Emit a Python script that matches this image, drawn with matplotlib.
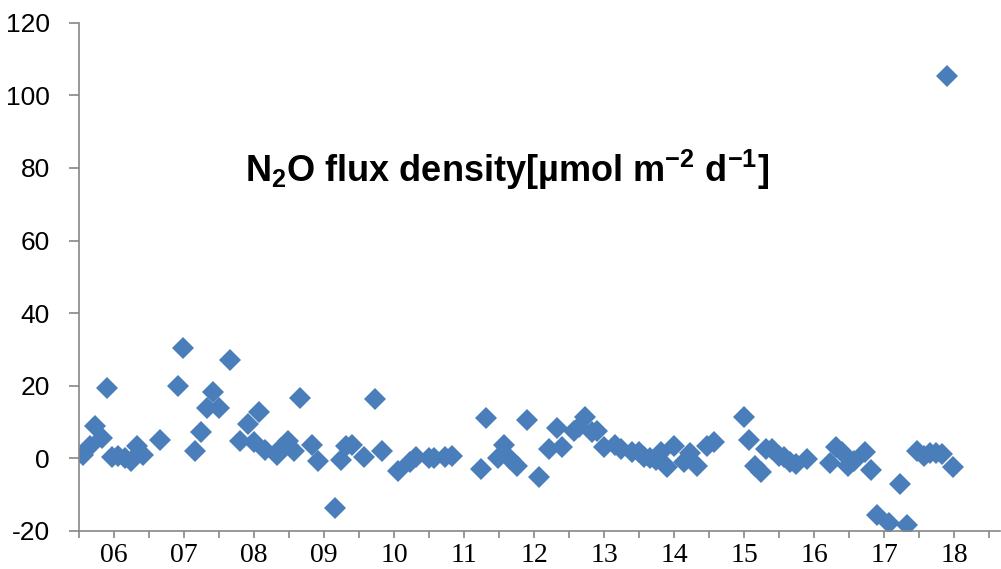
"""N2O flux density scatter, monthly samples 2005-2018."""

import matplotlib
matplotlib.use("Agg")
import matplotlib.pyplot as plt
from matplotlib.ticker import FixedLocator, FuncFormatter

# sample dates as decimal years (06 = 2006), flux in umol m-2 d-1
dates = [
    5.56, 5.65, 5.73, 5.83, 5.90, 5.97, 6.06, 6.15, 6.24, 6.32, 6.41, 6.66,
    6.91, 6.99, 7.16, 7.24, 7.32, 7.41, 7.50, 7.65, 7.80, 7.91, 8.00, 8.07,
    8.15, 8.32, 8.39, 8.49, 8.57, 8.65, 8.82, 8.91, 9.15, 9.24, 9.31, 9.40,
    9.57, 9.73, 9.82, 10.06, 10.22, 10.31, 10.49, 10.57, 10.73, 10.83, 11.24, 11.31,
    11.48, 11.57, 11.65, 11.75, 11.90, 12.07, 12.21, 12.32, 12.40, 12.56, 12.64, 12.73,
    12.82, 12.90, 12.99, 13.15, 13.24, 13.40, 13.49, 13.57, 13.65, 13.74, 13.81, 13.90,
    13.99, 14.14, 14.23, 14.32, 14.47, 14.57, 14.99, 15.06, 15.15, 15.24, 15.31, 15.40,
    15.49, 15.57, 15.65, 15.73, 15.90, 16.22, 16.31, 16.39, 16.48, 16.57, 16.72, 16.81,
    16.89, 17.06, 17.22, 17.32, 17.46, 17.56, 17.65, 17.73, 17.82, 17.89, 17.98,
]
flux = [
    0.9, 3.3, 8.8, 5.6, 19.3, 0.3, 0.6, 0.1, -0.7, 3.5, 0.9, 5.0,
    20.0, 30.5, 2.0, 7.3, 13.9, 18.4, 13.8, 27.1, 4.8, 9.4, 4.4, 12.8,
    2.2, 0.9, 2.8, 4.8, 1.9, 16.6, 3.7, -0.7, -13.7, -0.5, 3.5, 3.7,
    0.3, 16.3, 2.1, -3.5, -1.1, 0.4, 0.0, 0.0, 0.3, 0.6, -2.9, 11.0,
    0.0, 3.7, -0.2, -2.0, 10.6, -5.2, 2.6, 8.4, 3.0, 7.6, 8.5, 11.3,
    7.2, 7.4, 3.0, 3.7, 2.6, 1.7, 1.7, 0.4, 0.0, -0.4, 1.7, -2.5,
    3.5, -1.1, 1.4, -2.0, 3.3, 4.6, 11.3, 5.1, -2.2, -3.9, 2.6, 2.6,
    0.7, 0.3, -1.1, -1.6, -0.2, -1.3, 3.0, 1.8, -2.2, -0.7, 1.7, -3.1,
    -15.5, -17.9, -7.1, -18.5, 1.9, 0.6, 1.4, 1.5, 1.2, 105.4, -2.3,
]
y_ticks = [-20, 0, 20, 40, 60, 80, 100, 120]
year_labels = ["06", "07", "08", "09", "10", "11", "12", "13", "14", "15", "16", "17", "18"]

plt.rcParams["mathtext.fontset"] = "custom"
plt.rcParams["mathtext.rm"] = "Liberation Sans"
plt.rcParams["mathtext.bf"] = "Liberation Sans:bold"

fig = plt.figure(figsize=(10.01, 5.69), dpi=100)
ax = fig.add_axes([0.079, 0.067, 0.92, 0.893])

ax.plot(dates, flux, linestyle="none", marker="D", markersize=11,
        color="#4A7EBB", markeredgewidth=0)

ax.set_ylim(-20, 120)
ax.set_xlim(5.5, 18.65)

axis_grey = "#868686"
for side in ("top", "right"):
    ax.spines[side].set_visible(False)
for side in ("left", "bottom"):
    ax.spines[side].set_color(axis_grey)
    ax.spines[side].set_linewidth(1.2)

ax.set_yticks(y_ticks)
ax.set_yticklabels([str(v) for v in y_ticks], fontfamily="Liberation Sans", fontsize=19)
ax.tick_params(axis="y", direction="out", length=7, width=1.2, color=axis_grey, pad=14)

# every half year gets a tick, only whole years get a label
half_years = [5.5 + 0.5 * i for i in range(27)]
ax.xaxis.set_major_locator(FixedLocator(half_years))
labels = {6 + i: lab for i, lab in enumerate(year_labels)}
ax.xaxis.set_major_formatter(FuncFormatter(
    lambda v, pos: labels.get(int(round(v)), "") if abs(v - round(v)) < 1e-6 else ""))
ax.tick_params(axis="x", direction="out", length=5, width=1.2, color=axis_grey,
               pad=4, labelsize=20)
for lab in ax.get_xticklabels():
    lab.set_fontfamily("Liberation Serif")

ax.text(0.465, 0.71,
        r"N$_\mathbf{2}$O flux density[µmol m$^\mathbf{-2}$ d$^\mathbf{-1}$]",
        transform=ax.transAxes, ha="center", va="center",
        fontsize=26, fontweight="bold", fontfamily="Liberation Sans")

fig.savefig("out.png", dpi=100)
